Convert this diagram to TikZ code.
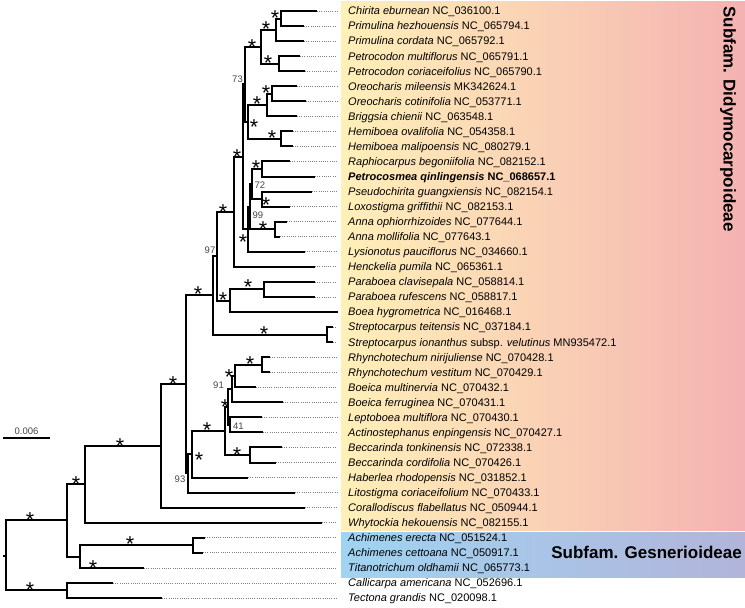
\documentclass[tikz,border=0pt]{standalone}
\usepackage{fontspec}
\setmainfont{Liberation Sans}
\usetikzlibrary{positioning,calc}
\definecolor{didyleft}{RGB}{255,240,184}
\definecolor{didyright}{RGB}{244,178,178}
\definecolor{gesleft}{RGB}{160,212,242}
\definecolor{gesright}{RGB}{178,180,218}
\definecolor{bsgray}{RGB}{70,70,70}
\newcommand{\bsmark}{\raisebox{-0.42em}[0.3em][0pt]{*}}

\begin{document}
\begin{tikzpicture}[x=1pt, y=-15.05pt,
    branch/.style={line width=2pt, line join=miter},
    leader/.style={gray, line width=0.7pt, dash pattern=on 0.8pt off 1.4pt},
    taxon/.style={anchor=base west, inner sep=0pt, yshift=-3.9pt, font=\fontsize{11}{12}\selectfont},
    bs/.style={inner sep=0pt, font=\fontsize{21.5}{21.5}\selectfont},
    num/.style={inner sep=0pt, text=bsgray, font=\fontsize{9.5}{10}\selectfont},
    clade/.style={inner sep=0pt, font=\fontsize{17}{17}\selectfont\bfseries}]
    \useasboundingbox (0,-0.731) rectangle (745,39.668);

    % subfamily boxes
    \shade[left color=didyleft, right color=didyright] (341,-0.66) rectangle (745,34.49);
    \shade[left color=gesleft, right color=gesright] (341,34.62) rectangle (745,37.61);
    \node[clade, rotate=-90] (didy) at (728,7.18) {Subfam. Didymocarpoideae};
    \node[clade, anchor=east] (gesn) at (742,35.95) {Subfam. Gesnerioideae};

    % tip ends
    \coordinate (t0) at (317,0);
    \coordinate (t1) at (304,1);
    \coordinate (t2) at (304,2);
    \coordinate (t3) at (300,3);
    \coordinate (t4) at (305,4);
    \coordinate (t5) at (297,5);
    \coordinate (t6) at (306,6);
    \coordinate (t7) at (297,7);
    \coordinate (t8) at (293,8);
    \coordinate (t9) at (293,9);
    \coordinate (t10) at (290,10);
    \coordinate (t11) at (315,11);
    \coordinate (t12) at (312,12);
    \coordinate (t13) at (290,13);
    \coordinate (t14) at (287,14);
    \coordinate (t15) at (280,15);
    \coordinate (t16) at (305,16);
    \coordinate (t17) at (315,17);
    \coordinate (t18) at (315,18);
    \coordinate (t19) at (315,19);
    \coordinate (t20) at (338,20);
    \coordinate (t21) at (333,21);
    \coordinate (t22) at (333,22);
    \coordinate (t23) at (270,23);
    \coordinate (t24) at (270,24);
    \coordinate (t25) at (256,25);
    \coordinate (t26) at (283,26);
    \coordinate (t27) at (262,27);
    \coordinate (t28) at (263,28);
    \coordinate (t29) at (282,29);
    \coordinate (t30) at (276,30);
    \coordinate (t31) at (248,31);
    \coordinate (t32) at (295,32);
    \coordinate (t33) at (305,33);
    \coordinate (t34) at (322,34);
    \coordinate (t35) at (205,35);
    \coordinate (t36) at (203,36);
    \coordinate (t37) at (144,37);
    \coordinate (t38) at (113,38);
    \coordinate (t39) at (162,39);

    % taxa
    \node[taxon] (l0) at (348,0) {\textit{Chirita eburnean} NC\_036100.1};
    \node[taxon] (l1) at (348,1) {\textit{Primulina hezhouensis} NC\_065794.1};
    \node[taxon] (l2) at (348,2) {\textit{Primulina cordata} NC\_065792.1};
    \node[taxon] (l3) at (348,3) {\textit{Petrocodon multiflorus} NC\_065791.1};
    \node[taxon] (l4) at (348,4) {\textit{Petrocodon coriaceifolius} NC\_065790.1};
    \node[taxon] (l5) at (348,5) {\textit{Oreocharis mileensis} MK342624.1};
    \node[taxon] (l6) at (348,6) {\textit{Oreocharis cotinifolia} NC\_053771.1};
    \node[taxon] (l7) at (348,7) {\textit{Briggsia chienii} NC\_063548.1};
    \node[taxon] (l8) at (348,8) {\textit{Hemiboea ovalifolia} NC\_054358.1};
    \node[taxon] (l9) at (348,9) {\textit{Hemiboea malipoensis} NC\_080279.1};
    \node[taxon] (l10) at (348,10) {\textit{Raphiocarpus begoniifolia} NC\_082152.1};
    \node[taxon] (l11) at (348,11) {\textbf{\textit{Petrocosmea qinlingensis} NC\_068657.1}};
    \node[taxon] (l12) at (348,12) {\textit{Pseudochirita guangxiensis} NC\_082154.1};
    \node[taxon] (l13) at (348,13) {\textit{Loxostigma griffithii} NC\_082153.1};
    \node[taxon] (l14) at (348,14) {\textit{Anna ophiorrhizoides} NC\_077644.1};
    \node[taxon] (l15) at (348,15) {\textit{Anna mollifolia} NC\_077643.1};
    \node[taxon] (l16) at (348,16) {\textit{Lysionotus pauciflorus} NC\_034660.1};
    \node[taxon] (l17) at (348,17) {\textit{Henckelia pumila} NC\_065361.1};
    \node[taxon] (l18) at (348,18) {\textit{Paraboea clavisepala} NC\_058814.1};
    \node[taxon] (l19) at (348,19) {\textit{Paraboea rufescens} NC\_058817.1};
    \node[taxon] (l20) at (348,20) {\textit{Boea hygrometrica} NC\_016468.1};
    \node[taxon] (l21) at (348,21) {\textit{Streptocarpus teitensis} NC\_037184.1};
    \node[taxon] (l22) at (348,22) {\textit{Streptocarpus ionanthus} subsp. \textit{velutinus} MN935472.1};
    \node[taxon] (l23) at (348,23) {\textit{Rhynchotechum nirijuliense} NC\_070428.1};
    \node[taxon] (l24) at (348,24) {\textit{Rhynchotechum vestitum} NC\_070429.1};
    \node[taxon] (l25) at (348,25) {\textit{Boeica multinervia} NC\_070432.1};
    \node[taxon] (l26) at (348,26) {\textit{Boeica ferruginea} NC\_070431.1};
    \node[taxon] (l27) at (348,27) {\textit{Leptoboea multiflora} NC\_070430.1};
    \node[taxon] (l28) at (348,28) {\textit{Actinostephanus enpingensis} NC\_070427.1};
    \node[taxon] (l29) at (348,29) {\textit{Beccarinda tonkinensis} NC\_072338.1};
    \node[taxon] (l30) at (348,30) {\textit{Beccarinda cordifolia} NC\_070426.1};
    \node[taxon] (l31) at (348,31) {\textit{Haberlea rhodopensis} NC\_031852.1};
    \node[taxon] (l32) at (348,32) {\textit{Litostigma coriaceifolium} NC\_070433.1};
    \node[taxon] (l33) at (348,33) {\textit{Corallodiscus flabellatus} NC\_050944.1};
    \node[taxon] (l34) at (348,34) {\textit{Whytockia hekouensis} NC\_082155.1};
    \node[taxon] (l35) at (348,35) {\textit{Achimenes erecta} NC\_051524.1};
    \node[taxon] (l36) at (348,36) {\textit{Achimenes cettoana} NC\_050917.1};
    \node[taxon] (l37) at (348,37) {\textit{Titanotrichum oldhamii} NC\_065773.1};
    \node[taxon] (l38) at (348,38) {\textit{Callicarpa americana} NC\_052696.1};
    \node[taxon] (l39) at (348,39) {\textit{Tectona grandis} NC\_020098.1};

    \foreach \i in {0,...,19,21,22,...,39}
        \draw[leader] (t\i) -- ($(l\i.base west |- t\i) + (-11pt,0)$);

    % internal nodes
    \coordinate (a1) at (281,0.5);
    \coordinate (a2) at (276,1.25);
    \coordinate (a3) at (279,3.5);
    \coordinate (a4) at (261,2.375);
    \coordinate (a5) at (272,5.5);
    \coordinate (a6) at (267,6.25);
    \coordinate (a7) at (281,8.5);
    \coordinate (a8) at (248,7.375);
    \coordinate (a9) at (245,4.875);
    \coordinate (b1) at (262,10.5);
    \coordinate (b2) at (262,12.5);
    \coordinate (b3) at (252,11.5);
    \coordinate (b4) at (275,14.5);
    \coordinate (b5) at (250,13);
    \coordinate (b6) at (248,14.5);
    \coordinate (b7) at (243,9.6875);
    \coordinate (b8) at (234,13.34);
    \coordinate (c1) at (264,18.5);
    \coordinate (c2) at (230,19.25);
    \coordinate (c3) at (217,16.30);
    \coordinate (c4) at (327,21.5);
    \coordinate (c5) at (213,18.9);
    \coordinate (d1) at (262,23.5);
    \coordinate (d2) at (235,24.25);
    \coordinate (d3) at (232,25.125);
    \coordinate (d4) at (230,27.5);
    \coordinate (d5) at (228,26.31);
    \coordinate (d6) at (250,29.5);
    \coordinate (d7) at (225,27.9);
    \coordinate (d8) at (192,29.45);
    \coordinate (d9) at (188,30.73);
    \coordinate (e1) at (186,24.81);
    \coordinate (e2) at (161,28.9);
    \coordinate (e3) at (85,31.45);
    \coordinate (e4) at (67,33.85);
    \coordinate (g1) at (193,35.5);
    \coordinate (g2) at (80,36.25);
    \coordinate (o1) at (67,38.5);
    \coordinate (root) at (6,36.18);
    \coordinate (stub) at (3,36.18);

    % branches
    \draw[branch] (t0) -| (a1) |- (t1);
    \draw[branch] (a1) -| (a2) |- (t2);
    \draw[branch] (t3) -| (a3) |- (t4);
    \draw[branch] (a2) -| (a4) |- (a3);
    \draw[branch] (t5) -| (a5) |- (t6);
    \draw[branch] (a5) -| (a6) |- (t7);
    \draw[branch] (t8) -| (a7) |- (t9);
    \draw[branch] (a6) -| (a8) |- (a7);
    \draw[branch] (a4) -| (a9) |- (a8);
    \draw[branch] (t10) -| (b1) |- (t11);
    \draw[branch] (t12) -| (b2) |- (t13);
    \draw[branch] (b1) -| (b3) |- (b2);
    \draw[branch] (t14) -| (b4) |- (t15);
    \draw[branch] (b3) -| (b5) |- (b4);
    \draw[branch] (b5) -| (b6) |- (t16);
    \draw[branch] (a9) -| (b7) |- (b6);
    \draw[branch] (b7) -| (b8) |- (t17);
    \draw[branch] (t18) -| (c1) |- (t19);
    \draw[branch] (c1) -| (c2) |- (t20);
    \draw[branch] (b8) -| (c3) |- (c2);
    \draw[branch] (t21) -| (c4) |- (t22);
    \draw[branch] (c3) -| (c5) |- (c4);
    \draw[branch] (t23) -| (d1) |- (t24);
    \draw[branch] (d1) -| (d2) |- (t25);
    \draw[branch] (d2) -| (d3) |- (t26);
    \draw[branch] (t27) -| (d4) |- (t28);
    \draw[branch] (d3) -| (d5) |- (d4);
    \draw[branch] (t29) -| (d6) |- (t30);
    \draw[branch] (d5) -| (d7) |- (d6);
    \draw[branch] (d7) -| (d8) |- (t31);
    \draw[branch] (d8) -| (d9) |- (t32);
    \draw[branch] (c5) -| (e1) |- (d9);
    \draw[branch] (e1) -| (e2) |- (t33);
    \draw[branch] (e2) -| (e3) |- (t34);
    \draw[branch] (t35) -| (g1) |- (t36);
    \draw[branch] (g1) -| (g2) |- (t37);
    \draw[branch] (e3) -| (e4) |- (g2);
    \draw[branch] (t38) -| (o1) |- (t39);
    \draw[branch] (e4) -| (root) |- (o1);
    \draw[branch] (stub) -- (root);

    % support values
    \node[bs] (s-a1) at (275,0.133) {\bsmark};
    \node[bs] (s-a2) at (266,0.864) {\bsmark};
    \node[bs] (s-a3) at (268,3.123) {\bsmark};
    \node[bs] (s-a4) at (252,2.060) {\bsmark};
    \node[bs] (s-a5) at (266,5.116) {\bsmark};
    \node[bs] (s-a6) at (257,5.847) {\bsmark};
    \node[bs] (s-a8) at (254,7.375) {\bsmark};
    \node[bs] (s-a7) at (272,8.106) {\bsmark};
    \node[bs] (s-b7) at (237,9.369) {\bsmark};
    \node[bs] (s-b1) at (256,10.100) {\bsmark};
    \node[bs] (s-b2) at (266,12.558) {\bsmark};
    \node[bs] (s-b4) at (263,14.153) {\bsmark};
    \node[bs] (s-b6) at (243,15.017) {\bsmark};
    \node[bs] (s-b8) at (223,13.023) {\bsmark};
    \node[bs] (s-c1) at (248,18.007) {\bsmark};
    \node[bs] (s-c2) at (223,18.870) {\bsmark};
    \node[bs] (s-c5) at (198,18.472) {\bsmark};
    \node[bs] (s-c4) at (264,21.130) {\bsmark};
    \node[bs] (s-d1) at (250,23.123) {\bsmark};
    \node[bs] (s-d2) at (229,23.987) {\bsmark};
    \node[bs] (s-d5) at (225,25.980) {\bsmark};
    \node[bs] (s-d7) at (207,27.508) {\bsmark};
    \node[bs] (s-d6) at (237,29.169) {\bsmark};
    \node[bs] (s-d8) at (199,29.502) {\bsmark};
    \node[bs] (s-e1) at (173,24.452) {\bsmark};
    \node[bs] (s-e2) at (120,28.571) {\bsmark};
    \node[bs] (s-e3) at (76,31.096) {\bsmark};
    \node[bs] (s-g1) at (130,35.083) {\bsmark};
    \node[bs] (s-g2) at (93,36.678) {\bsmark};
    \node[bs] (s-e4) at (30,33.488) {\bsmark};
    \node[bs] (s-o1) at (30,38.140) {\bsmark};

    \node[num, anchor=east] (v-a9) at (243,4.52) {73};
    \node[num, anchor=west] (v-b3) at (254.5,11.56) {72};
    \node[num, anchor=west] (v-b5) at (252.5,13.56) {99};
    \node[num, anchor=east] (v-c3) at (215.5,15.88) {97};
    \node[num, anchor=east] (v-d3) at (224,24.85) {91};
    \node[num, anchor=west] (v-d4) at (233,27.57) {41};
    \node[num, anchor=east] (v-d9) at (185.5,31.10) {93};

    % scale bar
    \coordinate (sb1) at (3,28.37);
    \coordinate (sb2) at (50,28.37);
    \draw[line width=2pt] (sb1) -- (sb2);
    \node[num, above=3.6pt] (sblab) at ($(sb1)!0.5!(sb2)$) {0.006};
\end{tikzpicture}
\end{document}
